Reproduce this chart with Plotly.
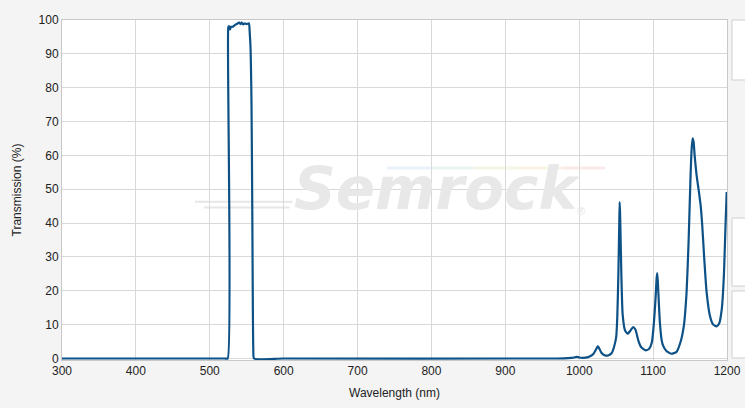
import plotly.graph_objects as go

# Wavelength (nm) and transmission (%)
wavelength = [300, 520, 524.3, 525.0, 526.0, 527.3, 528.7, 531.0, 534.0, 536.4, 539.9,
              541.8, 543.2, 545.3, 547.6, 549.9, 553.0, 554.0, 555.3, 556.5, 557.5,
              558.3, 558.9, 560.0, 600, 970, 985, 993, 996.5, 1000, 1005, 1012,
              1016, 1019, 1022, 1024, 1025, 1026, 1027.5, 1030, 1035, 1039, 1044,
              1047, 1050, 1051.5, 1053, 1054.2, 1054.7, 1055.3, 1057, 1058.7, 1062,
              1065.5, 1069.5, 1073, 1076.3, 1080, 1084, 1090, 1094.7, 1098.3, 1101,
              1103.4, 1104.7, 1105.5, 1106.3, 1107.4, 1109.2, 1111.5, 1113.5, 1118,
              1124.8, 1131.5, 1137, 1141.7, 1145.3, 1148, 1150.7, 1152.2, 1153.5,
              1154.8, 1156.2, 1158.9, 1162, 1164.3, 1166.5, 1169.2, 1172.4, 1176.8,
              1181.3, 1185.9, 1189.4, 1193, 1195.8, 1198, 1199.6]
transmission = [0, 0, 0, 97.8, 98.2, 97.2, 98.0, 98.0, 98.5, 98.8, 99.2,
                98.8, 99.2, 98.7, 99.0, 98.8, 99.0, 96.5, 91.0, 75.0, 45.0,
                15.0, 3.0, 0, 0, 0, 0.1, 0.3, 0.5, 0.3, 0.2, 0.4,
                0.8, 1.3, 2.4, 3.2, 3.6, 3.4, 2.8, 1.7, 0.9, 0.9, 1.6,
                3.3, 6.3, 12.2, 25.0, 40.0, 46.2, 43.0, 25.0, 13.2, 8.3,
                7.3, 8.3, 9.3, 8.4, 5.3, 3.3, 2.4, 2.9, 4.8, 10.3,
                18.1, 23.5, 25.2, 23.0, 18.0, 10.5, 5.5, 3.8, 2.2,
                1.4, 1.9, 4.8, 9.8, 19.6, 34.4, 54.1, 62.0, 65.0,
                64.0, 60.0, 54.1, 49.2, 45.3, 39.3, 29.5, 19.6, 12.7,
                10.0, 9.5, 10.3, 14.7, 24.6, 39.3, 49.2]

x_ticks = [300, 400, 500, 600, 700, 800, 900, 1000, 1100, 1200]
y_ticks = [0, 10, 20, 30, 40, 50, 60, 70, 80, 90, 100]

FONT = "Liberation Sans, Arial, sans-serif"
GRID = "#d9d9d9"

fig = go.Figure()
fig.add_trace(go.Scatter(
    x=wavelength, y=transmission, mode="lines",
    line=dict(color="#0d5186", width=2.2, shape="spline", smoothing=0.5),
    hoverinfo="x+y", showlegend=False,
))

shapes = []
# watermark swoosh lines
shapes.append(dict(type="line", xref="x", yref="y", x0=480, x1=612, y0=46.3, y1=46.3,
                   line=dict(color="#e6e6e6", width=2), layer="below"))
shapes.append(dict(type="line", xref="x", yref="y", x0=492, x1=608, y0=44.6, y1=44.6,
                   line=dict(color="#e6e6e6", width=2), layer="below"))
rainbow = ["#eaf1fa", "#e9f6f0", "#f3f7e6", "#faf4e3", "#fbe9e9"]
seg = (1035 - 740) / len(rainbow)
for i, c in enumerate(rainbow):
    shapes.append(dict(type="line", xref="x", yref="y", x0=740 + i * seg, x1=740 + (i + 1) * seg,
                       y0=56.3, y1=56.3, line=dict(color=c, width=3), layer="below"))
# right-side panels
for y0, y1 in [(0.8235, 1.0), (0.2176, 0.4176), (0.0059, 0.2029)]:
    shapes.append(dict(type="rect", xref="paper", yref="paper", x0=1.0075, x1=1.05,
                       y0=y0, y1=y1, fillcolor="#ffffff",
                       line=dict(color="#cfcfcf", width=1), layer="above"))

fig.update_layout(
    width=745, height=408, autosize=False,
    margin=dict(l=62, r=18, t=20, b=48),
    paper_bgcolor="#f4f4f4",
    plot_bgcolor="#ffffff",
    font=dict(family=FONT, size=12, color="#222222"),
    shapes=shapes,
    annotations=[
        dict(x=808, y=50, xref="x", yref="y", text="<b><i>Semrock</i></b>",
             showarrow=False, font=dict(family="DejaVu Sans", size=58, color="#e8e8e8")),
        dict(x=1003, y=43.5, xref="x", yref="y", text="®", showarrow=False,
             font=dict(family=FONT, size=11, color="#e4e4e4")),
    ],
    xaxis=dict(
        range=[300, 1200], tickvals=x_ticks, ticktext=[str(v) for v in x_ticks],
        showgrid=True, gridcolor=GRID, gridwidth=1, automargin=False,
        showline=True, linecolor="#c8c8c8", mirror=True, zeroline=False,
        ticks="", tickfont=dict(family=FONT, size=12, color="#222"),
        title=dict(text="Wavelength (nm)", font=dict(family=FONT, size=12, color="#222"),
                   standoff=11),
    ),
    yaxis=dict(
        range=[-0.45, 100], tickvals=y_ticks, ticktext=[str(v) for v in y_ticks],
        showgrid=True, gridcolor=GRID, gridwidth=1, automargin=False,
        showline=True, linecolor="#c8c8c8", mirror=True, zeroline=False,
        ticks="", tickfont=dict(family=FONT, size=12, color="#222"),
        title=dict(text="Transmission (%)", font=dict(family=FONT, size=12, color="#222"),
                   standoff=14),
    ),
)

fig.write_html(
    "out.html",
    config={"displayModeBar": False, "responsive": False},
    post_script="document.body.style.margin='0';document.body.style.overflow='hidden';",
)
